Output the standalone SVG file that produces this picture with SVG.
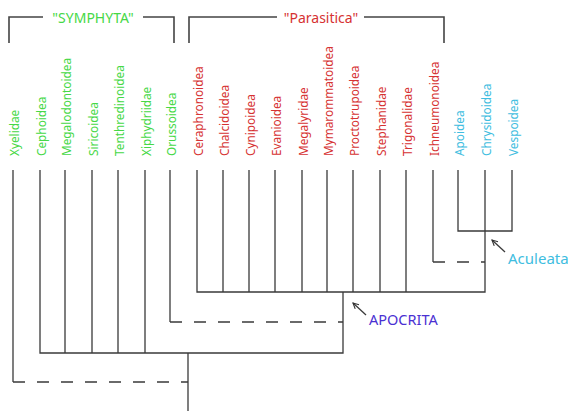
<svg xmlns="http://www.w3.org/2000/svg" width="568" height="411" viewBox="0 0 568 411">
<style>
text{font-family:"Noto Sans","Open Sans","Liberation Sans",sans-serif}
.leaf{font-size:11.8px}
.g{fill:#46d846}
.r{fill:#d63232}
.c{fill:#40bde0}
.p{fill:#4a30d2}
.ln{fill:none;stroke:#3a3a3a;stroke-width:1.3}
.ds{fill:none;stroke:#3a3a3a;stroke-width:1.3;stroke-dasharray:12 12}
.br{fill:none;stroke:#444;stroke-width:1.6}
.grp{font-size:14px;text-anchor:middle}
.cl{font-size:15px}
</style>
<defs>
<marker id="ah" viewBox="0 0 10 10" refX="9" refY="5" markerWidth="7" markerHeight="7" markerUnits="userSpaceOnUse" orient="auto">
<path d="M1,1 L9,5 L1,9" fill="none" stroke="#333" stroke-width="1.6"/>
</marker>
</defs>
<g id="brackets">
<g id="symphyta">
<path class="br" d="M9,43 V17 H43 M143,17 H174 V43"/>
<text class="grp g" x="93" y="23">"SYMPHYTA"</text>
</g>
<g id="parasitica">
<path class="br" d="M189,43 V17 H277 M364,17 H444 V43"/>
<text class="grp r" x="321" y="23">"Parasitica"</text>
</g>
</g>
<g id="connectors">
<path class="ln" d="M13,170 V382"/>
<path class="ds" d="M13,382 H188"/>
<path class="ln" d="M188,353 V411"/>
<path class="ln" d="M40,170 V353 H343 V292"/>
<path class="ln" d="M65,170 V353 M92,170 V353 M118,170 V353 M145,170 V353"/>
<path class="ln" d="M170,170 V322"/>
<path class="ds" d="M170,322 H343"/>
<path class="ln" d="M197,170 V292 H485 V170"/>
<path class="ln" d="M223,170 V292 M249,170 V292 M275,170 V292 M302,170 V292 M327,170 V292 M353,170 V292 M380,170 V292 M406,170 V292"/>
<path class="ln" d="M433,170 V262"/>
<path class="ds" d="M433,262 H485"/>
<path class="ln" d="M458,170 V231 H512 V170"/>
<path class="ln" marker-end="url(#ah)" d="M505,252 L492,240"/>
<path class="ln" marker-end="url(#ah)" d="M366,315 L353,303"/>
</g>
<g id="n-xyelidae"><text class="leaf g" transform="translate(19,156) rotate(-90)">Xyelidae</text></g>
<g id="n-cephoidea"><text class="leaf g" transform="translate(46,156) rotate(-90)">Cephoidea</text></g>
<g id="n-megalodontoidea"><text class="leaf g" transform="translate(71,156) rotate(-90)">Megalodontoidea</text></g>
<g id="n-siricoidea"><text class="leaf g" transform="translate(98,156) rotate(-90)">Siricoidea</text></g>
<g id="n-tenthredinoidea"><text class="leaf g" transform="translate(124,156) rotate(-90)">Tenthredinoidea</text></g>
<g id="n-xiphydriidae"><text class="leaf g" transform="translate(151,156) rotate(-90)">Xiphydriidae</text></g>
<g id="n-orussoidea"><text class="leaf g" transform="translate(176,156) rotate(-90)">Orussoidea</text></g>
<g id="n-ceraphronoidea"><text class="leaf r" transform="translate(203,156) rotate(-90)">Ceraphronoidea</text></g>
<g id="n-chalcidoidea"><text class="leaf r" transform="translate(229,156) rotate(-90)">Chalcidoidea</text></g>
<g id="n-cynipoidea"><text class="leaf r" transform="translate(255,156) rotate(-90)">Cynipoidea</text></g>
<g id="n-evanioidea"><text class="leaf r" transform="translate(281,156) rotate(-90)">Evanioidea</text></g>
<g id="n-megalyridae"><text class="leaf r" transform="translate(308,156) rotate(-90)">Megalyridae</text></g>
<g id="n-mymarommatoidea"><text class="leaf r" transform="translate(333,156) rotate(-90)">Mymarommatoidea</text></g>
<g id="n-proctotrupoidea"><text class="leaf r" transform="translate(359,156) rotate(-90)">Proctotrupoidea</text></g>
<g id="n-stephanidae"><text class="leaf r" transform="translate(386,156) rotate(-90)">Stephanidae</text></g>
<g id="n-trigonalidae"><text class="leaf r" transform="translate(412,156) rotate(-90)">Trigonalidae</text></g>
<g id="n-ichneumonoidea"><text class="leaf r" transform="translate(439,156) rotate(-90)">Ichneumonoidea</text></g>
<g id="n-apoidea"><text class="leaf c" transform="translate(464,156) rotate(-90)">Apoidea</text></g>
<g id="n-chrysidoidea"><text class="leaf c" transform="translate(491,156) rotate(-90)">Chrysidoidea</text></g>
<g id="n-vespoidea"><text class="leaf c" transform="translate(518,156) rotate(-90)">Vespoidea</text></g>
<g id="aculeata"><text class="cl c" x="508" y="264">Aculeata</text></g>
<g id="apocrita"><text class="cl p" x="369" y="325" style="font-size:14.5px">APOCRITA</text></g>
</svg>
